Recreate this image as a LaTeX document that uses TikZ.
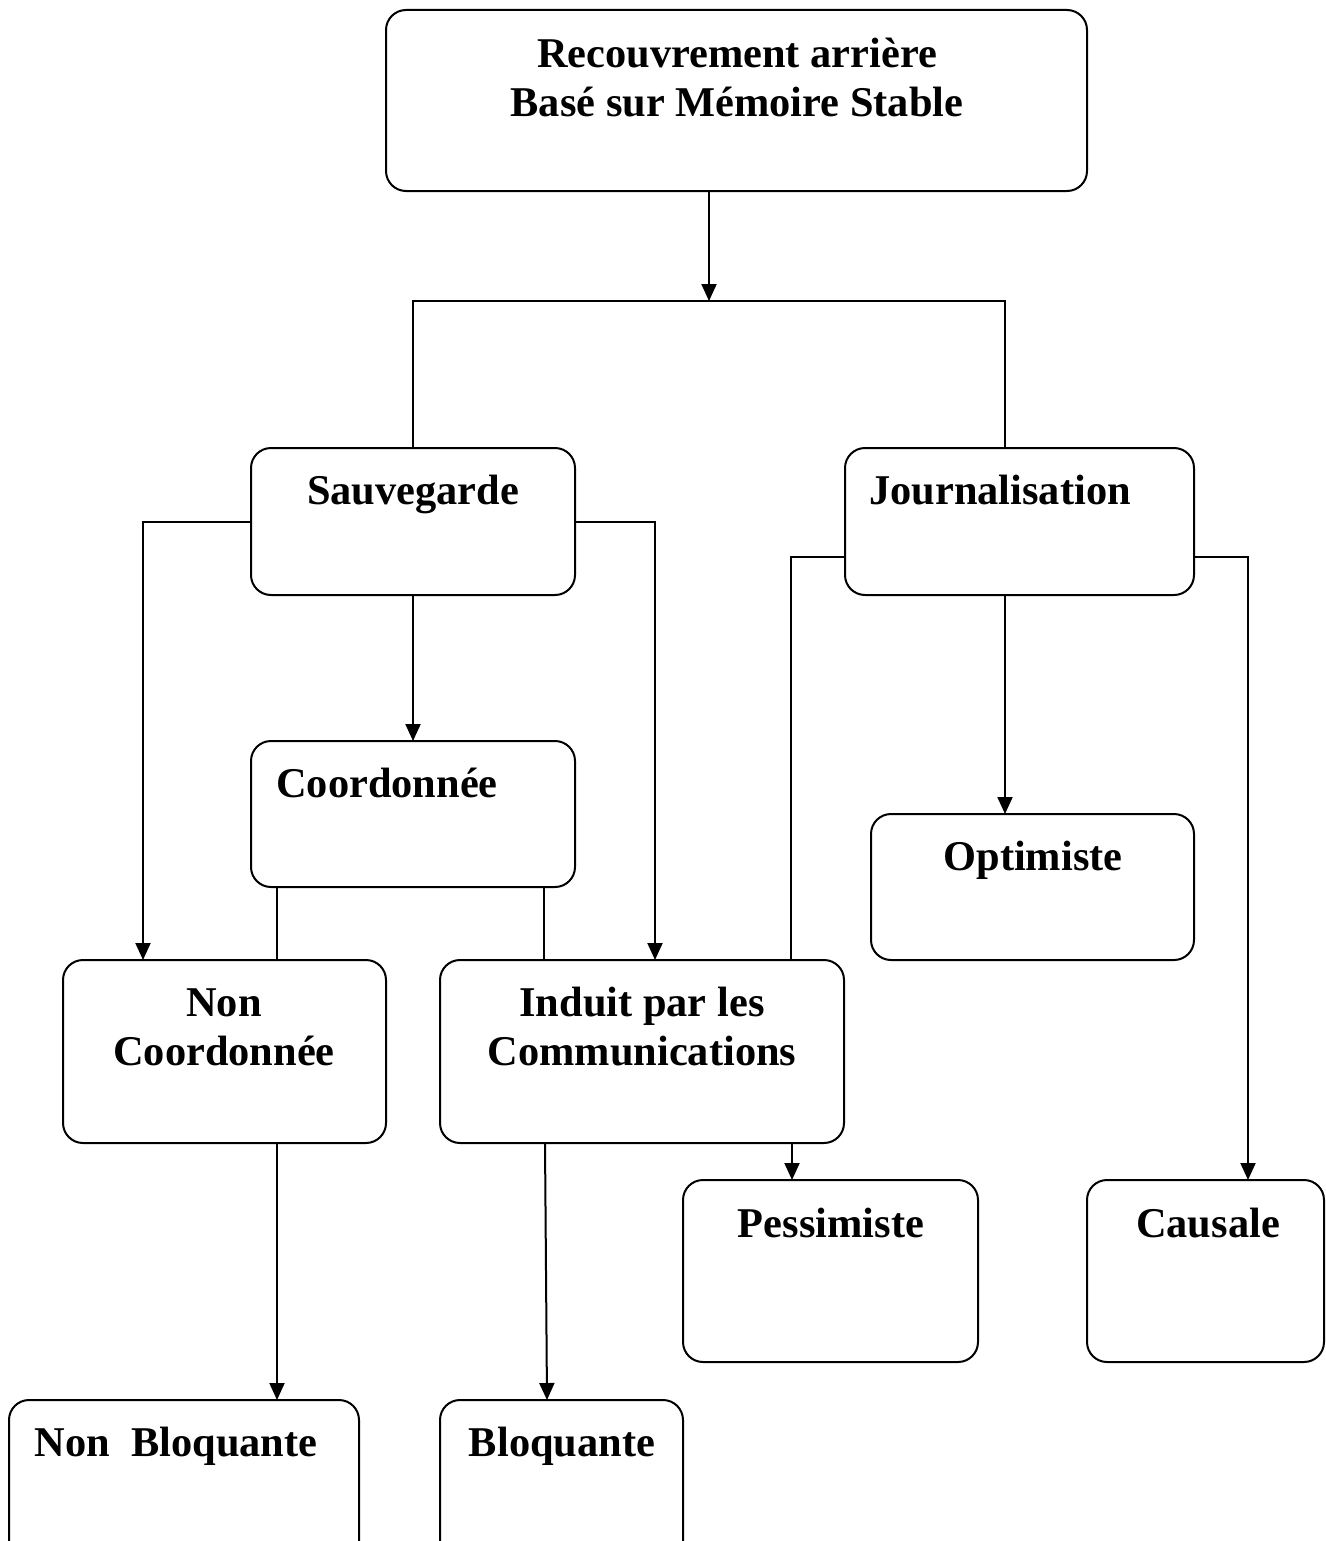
\documentclass[tikz,border=0pt]{standalone}
\usepackage{fontspec}
\setmainfont{Liberation Serif}
\usetikzlibrary{arrows.meta}
\begin{document}
\begin{tikzpicture}[x=0.5pt,y=-0.5pt,
  box/.style={draw, line width=1pt, rounded corners=10pt, inner sep=0pt, outer sep=0pt},
  lbl/.style={anchor=base, inner sep=0pt, font=\fontsize{21.2}{24}\selectfont\bfseries},
  link/.style={line width=1pt},
  arr/.style={line width=1pt, -{Triangle[width=7.5pt,length=8.5pt]}}]
\clip (0,0) rectangle (1326,1541);
\fill[white] (0,0) rectangle (1326,1541);

% boxes
\node[box, minimum width=350.5pt, minimum height=90.5pt] (top) at (736.5,100.5) {};
\node[box, minimum width=162pt, minimum height=73.5pt] (sauv) at (413,521.5) {};
\node[box, minimum width=174.5pt, minimum height=73.5pt] (journ) at (1019.5,521.5) {};
\node[box, minimum width=162pt, minimum height=73pt] (coord) at (413,814) {};
\node[box, minimum width=161.5pt, minimum height=91.5pt] (noncoord) at (224.5,1051.5) {};
\node[box, minimum width=202pt, minimum height=91.5pt] (induit) at (642,1051.5) {};
\node[box, minimum width=161.5pt, minimum height=73pt] (optim) at (1032.5,887) {};
\node[box, minimum width=147.5pt, minimum height=91pt] (pessim) at (830.5,1271) {};
\node[box, minimum width=118.5pt, minimum height=91pt] (causale) at (1205.5,1271) {};
\node[box, minimum width=175pt, minimum height=90pt] (nonbloq) at (184,1490) {};
\node[box, minimum width=121.5pt, minimum height=90pt] (bloq) at (561.5,1490) {};

% labels
\node[lbl] (t-top1) at (737,68) {Recouvrement arrière};
\node[lbl] (t-top2) at (737,117) {Basé sur Mémoire Stable};
\node[lbl] (t-sauv) at (413,504) {Sauvegarde};
\node[lbl] (t-journ) at (1000,504) {Journalisation};
\node[lbl] (t-coord) at (387,797) {Coordonnée};
\node[lbl] (t-nc1) at (224,1016) {Non};
\node[lbl] (t-nc2) at (224,1065) {Coordonnée};
\node[lbl] (t-ind1) at (642,1016) {Induit par les};
\node[lbl] (t-ind2) at (642,1065) {Communications};
\node[lbl] (t-optim) at (1033,870) {Optimiste};
\node[lbl] (t-pessim) at (831,1237) {Pessimiste};
\node[lbl] (t-causale) at (1208,1237) {Causale};
\node[lbl] (t-nonbloq) at (176,1456) {Non\ \ Bloquante};
\node[lbl] (t-bloq) at (562,1456) {Bloquante};

% routing points
\coordinate (j1) at (709,301);
\coordinate (jl) at (413,301);
\coordinate (jr) at (1005,301);
\coordinate (xl) at (143,0);
\coordinate (xr) at (655,0);
\coordinate (xc1) at (277,0);
\coordinate (xc2) at (544,0);
\coordinate (xj) at (791,0);
\coordinate (yj) at (0,557);
\coordinate (xo) at (1005,0);
\coordinate (xca) at (1248,0);
\coordinate (xp) at (792,0);
\coordinate (xb1) at (545,0);
\coordinate (xb2) at (547,0);

% connectors
\draw[arr] (top.south -| j1) -- (j1);
\draw[link] (sauv.north) -- (jl) -- (jr) -- (jr |- journ.north);
\draw[arr] (sauv.west) -| (xl |- noncoord.north);
\draw[arr] (sauv.east) -| (xr |- induit.north);
\draw[arr] (sauv.south) -- (coord.north);
\draw[link] (xc1 |- coord.south) -- (xc1 |- noncoord.north);
\draw[link] (xc2 |- coord.south) -- (xc2 |- induit.north);
\draw[link] (journ.west |- yj) -| (xj |- induit.north);
\draw[arr] (xo |- journ.south) -- (xo |- optim.north);
\draw[arr] (journ.east |- yj) -| (xca |- causale.north);
\draw[arr] (xp |- induit.south) -- (xp |- pessim.north);
\draw[arr] (xc1 |- noncoord.south) -- (xc1 |- nonbloq.north);
\draw[arr] (xb1 |- induit.south) -- (xb2 |- bloq.north);
\end{tikzpicture}
\end{document}
